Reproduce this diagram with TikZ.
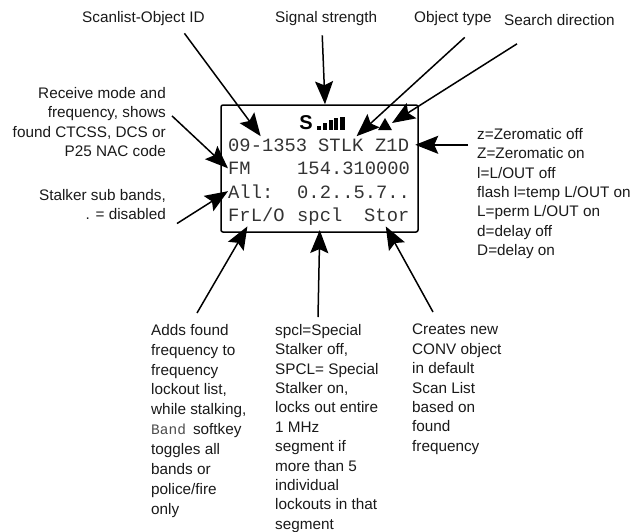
\documentclass[tikz,border=0pt]{standalone}
\usepackage{fontspec}
\setmainfont{Liberation Sans}
\newfontfamily\lcdfont{Liberation Mono}
\usetikzlibrary{arrows.meta,shapes.geometric}

\begin{document}
\begin{tikzpicture}[x=1pt,y=-1pt]
	\tikzstyle{LabelStyle} = [inner sep=0pt, font=\fontsize{15.3}{19.4}\selectfont, text=black!90]
	\tikzstyle{LeftStyle}  = [LabelStyle, anchor=north east, align=right]
	\tikzstyle{TextStyle}  = [LabelStyle, anchor=north west, align=left]
	\tikzstyle{LcdStyle}   = [inner sep=0pt, anchor=base west, text=black!80, font=\fontsize{18.8}{20}\lcdfont]
	\tikzstyle{EdgeStyle}  = [line width=1.5pt, -{Stealth[length=23pt,width=18pt,inset=4pt]}]

	\useasboundingbox (0,0) rectangle (635,531);

	% display
	\node[draw, line width=1.5pt, rounded corners=2pt, minimum width=197pt, minimum height=127pt, inner sep=0pt] (LcdBox) at (319.5,168.5) {};
	\node[LcdStyle] (RowId) at (228,151) {09-1353};
	\node[LcdStyle] (RowType) at (318,151) {STLK};
	\node[LcdStyle] (RowFlags) at (375,151) {Z1D};
	\node[LcdStyle] (RowMode) at (228,174.5) {FM};
	\node[LcdStyle] (RowFreq) at (297,174.5) {154.310000};
	\node[LcdStyle] (RowBand) at (228,198) {All:};
	\node[LcdStyle] (RowSub) at (297,198) {0.2..5.7..};
	\node[LcdStyle] (KeyLockout) at (228,221) {FrL/O};
	\node[LcdStyle] (KeySpecial) at (297,221) {spcl};
	\node[LcdStyle] (KeyStore) at (364,221) {Stor};
	\node[inner sep=0pt, font=\fontsize{20}{20}\bfseries] (SignalS) at (306,123) {S};
	\foreach \x/\t/\w in {317/126/4,323/123/4,328.5/120/4,334/118/4,340/116.7/5}
		\fill (\x,130) rectangle (\x+\w,\t);
	\node[regular polygon, regular polygon sides=3, fill=black, inner sep=0pt, minimum size=16pt] (SearchMark) at (385,126) {};

	% labels
	\node[LabelStyle, anchor=west] (IdLabel) at (82,19) {Scanlist-Object ID};
	\node[LabelStyle, anchor=west] (SignalLabel) at (275,19) {Signal strength};
	\node[LabelStyle, anchor=west] (TypeLabel) at (414,19) {Object type};
	\node[LabelStyle, anchor=west] (SearchLabel) at (504,20) {Search direction};
	\node[LeftStyle] (ModeLabel) at (166,87) {Receive mode and\\frequency, shows\\found CTCSS, DCS or\\P25 NAC code};
	\node[LeftStyle] (BandLabel) at (166,189) {Stalker sub bands,\\. = disabled};
	\node[TextStyle] (FlagLabel) at (477,128) {z=Zeromatic off\\Z=Zeromatic on\\l=L/OUT off\\flash l=temp L/OUT on\\L=perm L/OUT on\\d=delay off\\D=delay on};
	\node[TextStyle, font=\fontsize{15.3}{19.9}\selectfont] (LockoutLabel) at (151,324) {Adds found\\frequency to\\frequency\\lockout list,\\while stalking,\\{\fontsize{14.5}{19.9}\lcdfont\color{black!70}Band}\hspace{7pt}softkey\\toggles all\\bands or\\police/fire\\only};
	\node[TextStyle] (SpecialLabel) at (275,324) {spcl=Special\\Stalker off,\\SPCL= Special\\Stalker on,\\locks out entire\\1 MHz\\segment if\\more than 5\\individual\\lockouts in that\\segment};
	\node[TextStyle] (StoreLabel) at (412,324) {Creates new\\CONV object\\in default\\Scan List\\based on\\found\\frequency};

	% arrows
	\draw[EdgeStyle] ([shift={(41,7)}]IdLabel.south) -- ([shift={(-7,-2)}]RowId.north);
	\draw[EdgeStyle] ([shift={(-4,9)}]SignalLabel.south) -- ([shift={(5.5,0)}]LcdBox.north);
	\draw[EdgeStyle] ([shift={(-27,11)}]TypeLabel.south east) -- ([shift={(-7,-2)}]RowType.north east);
	\draw[EdgeStyle] ([shift={(13,18)}]SearchLabel.south west) -- ([shift={(7,-3)}]SearchMark.center);
	\draw[EdgeStyle] ([shift={(6,-6)}]ModeLabel.east) -- (RowMode.west);
	\draw[EdgeStyle] ([shift={(11,19)}]BandLabel.east) -- (RowBand.west);
	\draw[EdgeStyle] ([shift={(-9,0)}]FlagLabel.north west |- RowFlags.east) -- ([shift={(6,0)}]RowFlags.east);
	\draw[EdgeStyle] ([shift={(46,-11)}]LockoutLabel.north west) -- ([shift={(-9,5)}]KeyLockout.south);
	\draw[EdgeStyle] ([shift={(43,-7)}]SpecialLabel.north west) -- ([shift={(0,5)}]KeySpecial.south);
	\draw[EdgeStyle] ([shift={(21,-12)}]StoreLabel.north west) -- ([shift={(-1,5)}]KeyStore.south);
\end{tikzpicture}
\end{document}
